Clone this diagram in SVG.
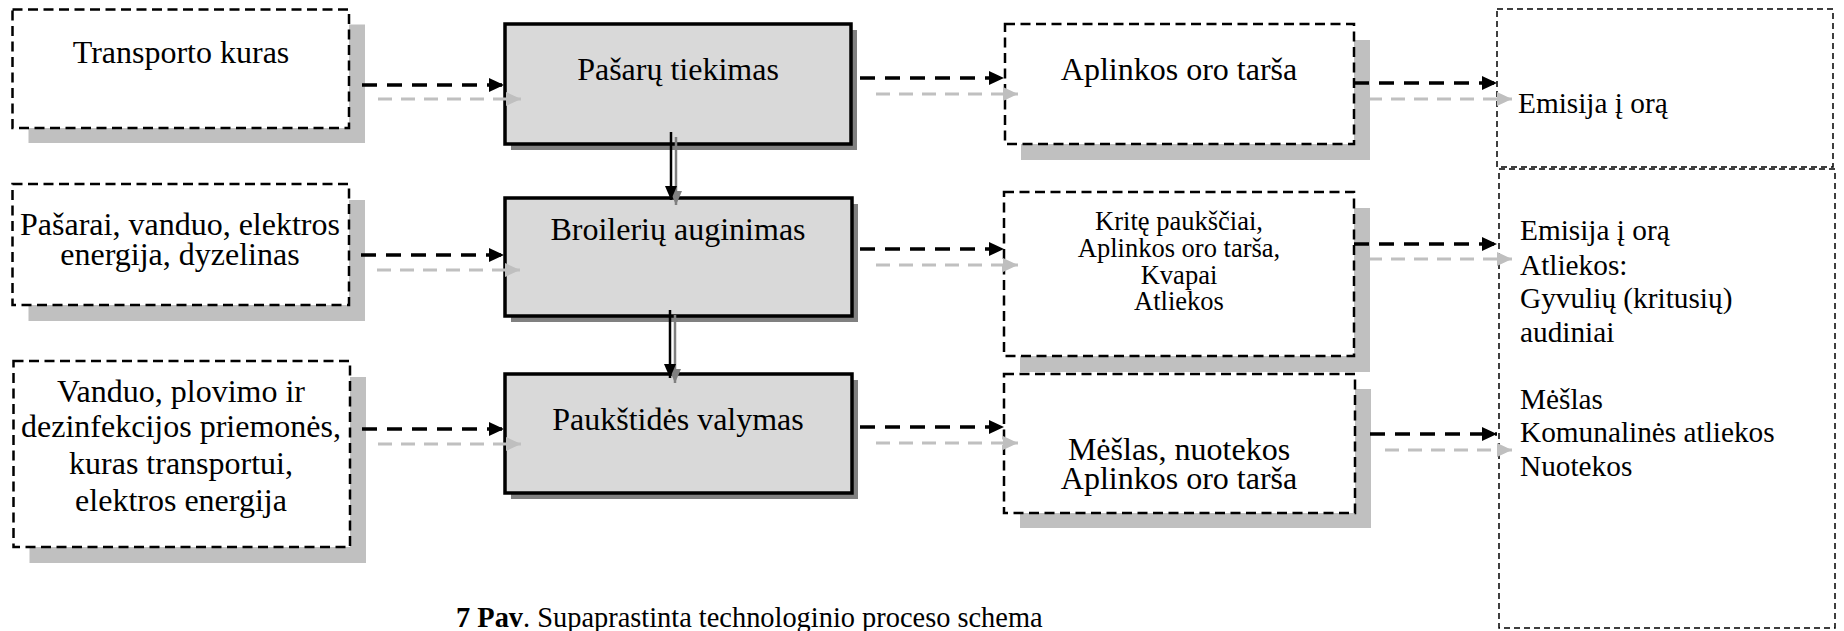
<svg xmlns="http://www.w3.org/2000/svg" width="1844" height="631" viewBox="0 0 1844 631">
  <style>
    .dbox { fill: #ffffff; stroke: #000000; stroke-width: 2.5; stroke-dasharray: 10 5.5; }
    .thin { fill: #ffffff; stroke: #000000; stroke-width: 1.5; stroke-dasharray: 6 4; }
    .shadow { fill: #c0c0c0; }
    .proc { fill: #d9d9d9; stroke: #000000; stroke-width: 3.5; }
    .pshadow { fill: #808080; }
    .t { font-family: "Liberation Serif", "Times New Roman", serif; font-size: 32px; fill: #000000; }
    .s { font-size: 26.5px; }
    .r { font-size: 29.3px; }
    .c { text-anchor: middle; }
    .ab { stroke: #000000; stroke-width: 3.5; stroke-dasharray: 15 10; fill: none; marker-end: url(#headBlack); }
    .ag { stroke: #c0c0c0; stroke-width: 3; stroke-dasharray: 14 9; fill: none; marker-end: url(#headGray); }
    .vb { stroke: #000000; stroke-width: 2.5; fill: none; marker-end: url(#headBlackV); }
    .vg { stroke: #808080; stroke-width: 2.5; fill: none; marker-end: url(#headGrayV); }
  </style>
  <defs>
    <marker id="headBlack" markerUnits="userSpaceOnUse" markerWidth="15" markerHeight="14" refX="15" refY="7" orient="auto">
      <path d="M0,0 L15,7 L0,14 z" fill="#000000"/>
    </marker>
    <marker id="headGray" markerUnits="userSpaceOnUse" markerWidth="15" markerHeight="14" refX="15" refY="7" orient="auto">
      <path d="M0,0 L15,7 L0,14 z" fill="#bfbfbf"/>
    </marker>
    <marker id="headBlackV" markerUnits="userSpaceOnUse" markerWidth="14" markerHeight="12" refX="14" refY="6" orient="auto">
      <path d="M0,0 L14,6 L0,12 z" fill="#000000"/>
    </marker>
    <marker id="headGrayV" markerUnits="userSpaceOnUse" markerWidth="14" markerHeight="12" refX="14" refY="6" orient="auto">
      <path d="M0,0 L14,6 L0,12 z" fill="#808080"/>
    </marker>
  </defs>

  <rect x="0" y="0" width="1844" height="631" fill="#ffffff"/>

  <!-- input boxes -->
  <g id="n-transport">
    <rect class="shadow" x="28.5" y="24.5" width="336.5" height="118.5"/>
    <rect class="dbox" x="12.5" y="9.5" width="336.5" height="118.5"/>
    <text class="t c" x="181" y="63">Transporto kuras</text>
  </g>
  <g id="n-supplies">
    <rect class="shadow" x="28.5" y="200" width="336.5" height="121"/>
    <rect class="dbox" x="12.5" y="184" width="336.5" height="121"/>
    <text class="t c" x="180" y="235">Pašarai, vanduo, elektros</text>
    <text class="t c" x="180" y="265">energija, dyzelinas</text>
  </g>
  <g id="n-cleaning-inputs">
    <rect class="shadow" x="29.5" y="377" width="336.5" height="186"/>
    <rect class="dbox" x="13.5" y="361" width="336.5" height="186"/>
    <text class="t c" x="181" y="402">Vanduo, plovimo ir</text>
    <text class="t c" x="181" y="437">dezinfekcijos priemonės,</text>
    <text class="t c" x="181" y="474">kuras transportui,</text>
    <text class="t c" x="181" y="511">elektros energija</text>
  </g>

  <!-- process steps -->
  <g id="n-feeding">
    <rect class="pshadow" x="511" y="30" width="346" height="120"/>
    <rect class="proc" x="505" y="24" width="346" height="120"/>
    <text class="t c" x="678" y="80">Pašarų tiekimas</text>
  </g>
  <g id="n-growing">
    <rect class="pshadow" x="511" y="204" width="347" height="118"/>
    <rect class="proc" x="505" y="198" width="347" height="118"/>
    <text class="t c" x="678" y="240">Broilerių auginimas</text>
  </g>
  <g id="n-cleanup">
    <rect class="pshadow" x="511" y="380" width="347" height="119"/>
    <rect class="proc" x="505" y="374" width="347" height="119"/>
    <text class="t c" x="678" y="430">Paukštidės valymas</text>
  </g>

  <!-- outputs of each step -->
  <g id="n-air">
    <rect class="shadow" x="1021" y="40" width="349" height="120"/>
    <rect class="dbox" x="1005" y="24" width="349" height="120"/>
    <text class="t c" x="1179" y="80">Aplinkos oro tarša</text>
  </g>
  <g id="n-dead-birds">
    <rect class="shadow" x="1020" y="208" width="350" height="164"/>
    <rect class="dbox" x="1004" y="192" width="350" height="164"/>
    <text class="t s c" x="1179" y="230">Kritę paukščiai,</text>
    <text class="t s c" x="1179" y="257">Aplinkos oro tarša,</text>
    <text class="t s c" x="1179" y="283.5">Kvapai</text>
    <text class="t s c" x="1179" y="310">Atliekos</text>
  </g>
  <g id="n-manure">
    <rect class="shadow" x="1020" y="389" width="351" height="139"/>
    <rect class="dbox" x="1004" y="374" width="351" height="139"/>
    <text class="t c" x="1179" y="460">Mėšlas, nuotekos</text>
    <text class="t c" x="1179" y="488.5">Aplinkos oro tarša</text>
  </g>

  <!-- final emissions and wastes -->
  <g id="n-emission">
    <rect class="thin" x="1497" y="9" width="336" height="158"/>
    <text class="t r" x="1518" y="113">Emisija į orą</text>
  </g>
  <g id="n-wastes">
    <rect class="thin" x="1499" y="169" width="336" height="459"/>
    <text class="t r" x="1520" y="240">Emisija į orą</text>
    <text class="t r" x="1520" y="274.5">Atliekos:</text>
    <text class="t r" x="1520" y="308">Gyvulių (kritusių)</text>
    <text class="t r" x="1520" y="341.5">audiniai</text>
    <text class="t r" x="1520" y="409">Mėšlas</text>
    <text class="t r" x="1520" y="442">Komunalinės atliekos</text>
    <text class="t r" x="1520" y="476">Nuotekos</text>
  </g>

  <!-- connectors -->
  <g id="connectors">
    <line class="ag" x1="378" y1="99" x2="521" y2="99"/>
    <line class="ab" x1="362" y1="85" x2="504" y2="85"/>
    <line class="ag" x1="876" y1="94" x2="1018" y2="94"/>
    <line class="ab" x1="860" y1="78" x2="1004" y2="78"/>
    <line class="ag" x1="1368" y1="99" x2="1512" y2="99"/>
    <line class="ab" x1="1354" y1="83" x2="1497" y2="83"/>

    <line class="ag" x1="377" y1="270" x2="520" y2="270"/>
    <line class="ab" x1="361" y1="255" x2="504" y2="255"/>
    <line class="ag" x1="876" y1="265" x2="1018" y2="265"/>
    <line class="ab" x1="860" y1="249" x2="1004" y2="249"/>
    <line class="ag" x1="1368" y1="259" x2="1512" y2="259"/>
    <line class="ab" x1="1354" y1="244" x2="1497" y2="244"/>

    <line class="ag" x1="378" y1="444" x2="521" y2="444"/>
    <line class="ab" x1="362" y1="429" x2="504" y2="429"/>
    <line class="ag" x1="876" y1="443" x2="1018" y2="443"/>
    <line class="ab" x1="860" y1="427" x2="1004" y2="427"/>
    <line class="ag" x1="1385" y1="450" x2="1512" y2="450"/>
    <line class="ab" x1="1370" y1="434" x2="1497" y2="434"/>

    <line class="vg" x1="676" y1="137" x2="676" y2="205"/>
    <line class="vb" x1="671" y1="132" x2="671" y2="200"/>
    <line class="vg" x1="675" y1="315" x2="675" y2="383"/>
    <line class="vb" x1="670" y1="310" x2="670" y2="378"/>
  </g>

  <text class="t" x="456" y="627" style="font-size:28.4px"><tspan font-weight="bold">7 Pav</tspan>. Supaprastinta technologinio proceso schema</text>
</svg>
